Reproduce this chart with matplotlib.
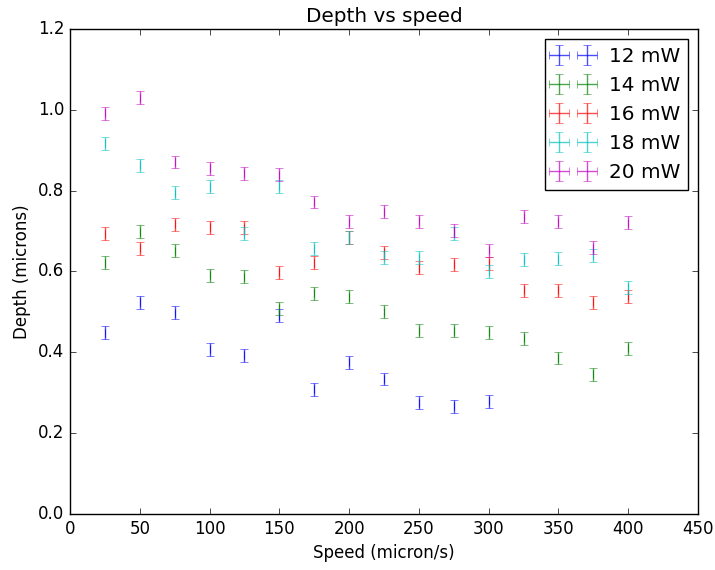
import matplotlib
matplotlib.use('Agg')
import matplotlib.pyplot as plt

plt.style.use('classic')

speed = [25, 50, 75, 100, 125, 150, 175, 200, 225, 250, 275, 300, 325, 350, 375, 400]

depth_12 = [0.449, 0.524, 0.498, 0.408, 0.393, 0.490, 0.309, 0.376, 0.334, 0.275, 0.266, 0.279]
depth_14 = [0.622, 0.698, 0.651, 0.591, 0.587, 0.509, 0.546, 0.537, 0.501, 0.453, 0.453, 0.450,
            0.435, 0.386, 0.346, 0.410]
depth_16 = [0.693, 0.657, 0.717, 0.709, 0.708, 0.598, 0.622, 0.685, 0.648, 0.609, 0.618, 0.620,
            0.554, 0.554, 0.524, 0.539]
depth_18 = [0.917, 0.863, 0.795, 0.810, 0.693, 0.811, 0.656, 0.685, 0.635, 0.634, 0.693, 0.601,
            0.629, 0.632, 0.640, 0.561]
depth_20 = [0.991, 1.030, 0.871, 0.855, 0.843, 0.839, 0.772, 0.723, 0.748, 0.724, 0.701, 0.653,
            0.736, 0.723, 0.659, 0.721]

err = 0.016

series = [
    ('12 mW', depth_12, 'b'),
    ('14 mW', depth_14, 'g'),
    ('16 mW', depth_16, 'r'),
    ('18 mW', depth_18, 'c'),
    ('20 mW', depth_20, 'm'),
]

fig = plt.figure(figsize=(7.15, 5.7), dpi=100)
ax = fig.add_axes([70 / 715, 1 - 514 / 570, 628 / 715, 485 / 570])

for label, depth, color in series:
    x = speed[:len(depth)]
    ax.errorbar(x, depth, yerr=[err] * len(depth), xerr=[0.0] * len(depth),
                fmt='none', ecolor=color, alpha=0.7, label=label)

ax.set_xlim(0, 450)
ax.set_ylim(0, 1.2)
ax.set_xlabel('Speed (micron/s)')
ax.set_ylabel('Depth (microns)')
ax.set_title('Depth vs speed')
ax.legend(loc='upper right')

fig.savefig('out.png', dpi=100)
